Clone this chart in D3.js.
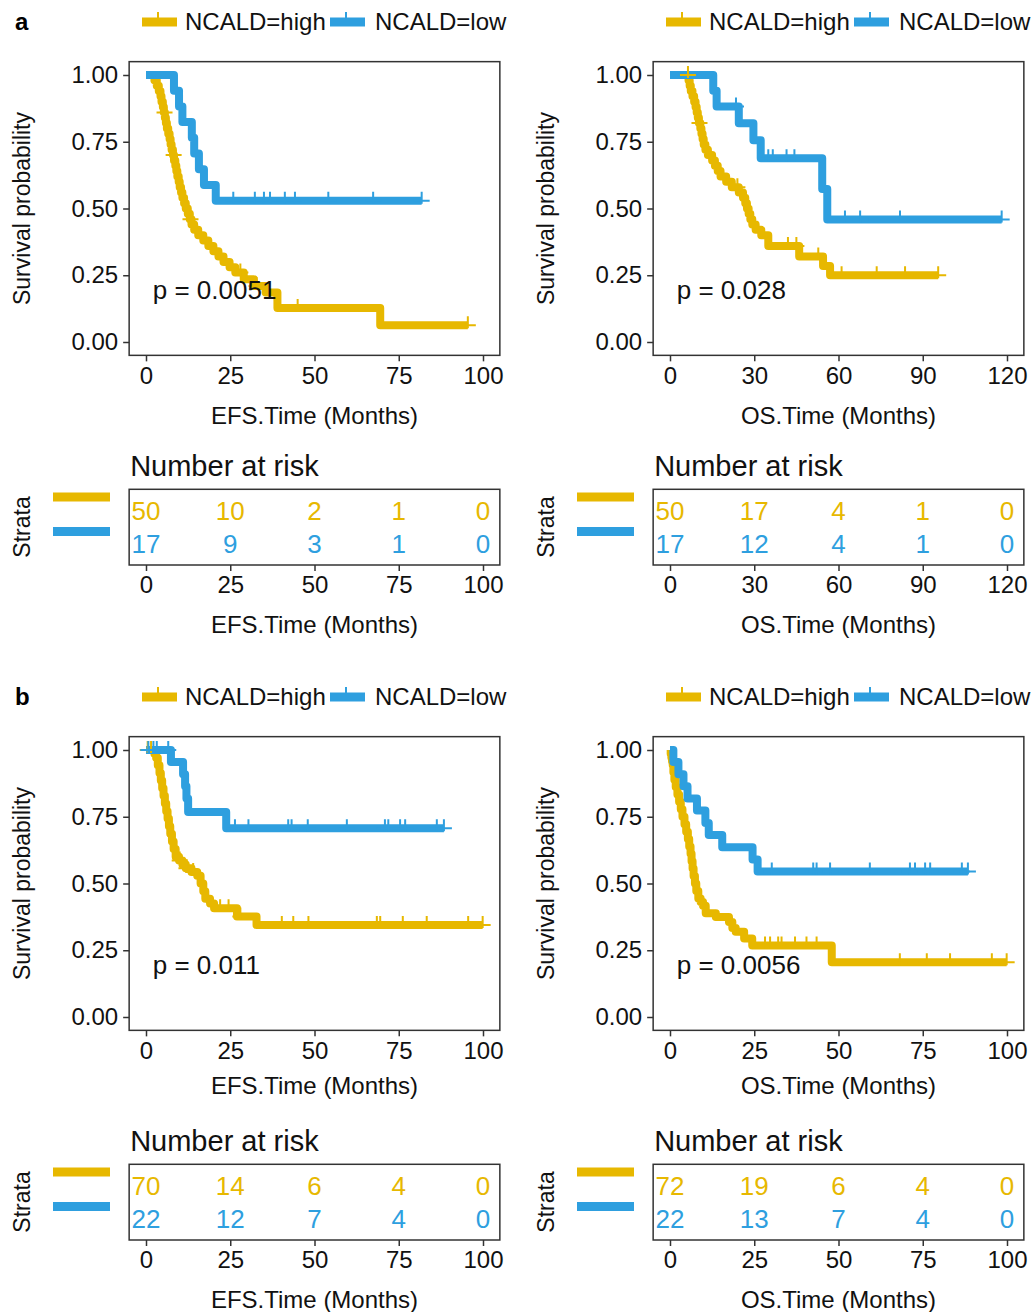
<!DOCTYPE html>
<html>
<head>
<meta charset="utf-8">
<script src="https://cdn.jsdelivr.net/npm/d3@7"></script>
<style>
  body { margin: 0; background: #fff; }
  svg { font-family: "Liberation Sans", Arial, sans-serif; }
</style>
</head>
<body>
<div id="chart"></div>
<script>
(function () {

    // ---- data ----
    const groups = ['NCALD=high', 'NCALD=low'];
    const efsTicks = [0, 25, 50, 75, 100];
    const osTicksA = [0, 30, 60, 90, 120];
    const osTicksB = [0, 25, 50, 75, 100];
    const survTicks = [0, 0.25, 0.5, 0.75, 1];
    const pValues = ['p = 0.0051', 'p = 0.028', 'p = 0.011', 'p = 0.0056'];

    // a, EFS
    const efsAHigh = [[0,1],[2.5,0.98],[3.2,0.96],[3.8,0.94],[4.3,0.92],[4.6,0.90],[5.0,0.88],[5.3,0.86],[5.6,0.84],
        [5.9,0.82],[6.2,0.80],[6.6,0.78],[7.0,0.76],[7.3,0.74],[7.6,0.72],[8.0,0.70],[8.3,0.68],[8.7,0.66],[9.0,0.64],
        [9.3,0.62],[9.7,0.60],[10.0,0.58],[10.4,0.56],[10.8,0.54],[11.3,0.52],[11.8,0.50],[12.4,0.48],[13.0,0.46],
        [13.5,0.44],[14.3,0.42],[15.5,0.40],[17.0,0.38],[18.5,0.36],[20.0,0.34],[21.5,0.32],[23.0,0.30],[24.8,0.28],
        [26.5,0.26],[29.0,0.235],[32.0,0.21],[35.5,0.185],[39.0,0.127],[69.5,0.063]];
    const efsAHighCens = [5.5, 8.2, 13.2, 28, 32.8, 45, 95.5];
    const efsALow = [[0,1],[8.3,0.941],[9.8,0.882],[10.8,0.824],[13.6,0.765],[14.3,0.706],[15.7,0.647],[17.2,0.588],[20.7,0.529]];
    const efsALowCens = [25.9, 32.3, 35, 36.8, 41.2, 44.2, 54.1, 67.4, 81.8];
    const riskEfsA = [[50, 10, 2, 1, 0], [17, 9, 3, 1, 0]];

    // a, OS
    const osAHigh = [[0,1],[6.6,0.98],[7.0,0.96],[7.4,0.94],[8.0,0.92],[8.6,0.90],[9.1,0.88],[9.5,0.86],[9.9,0.84],
        [10.3,0.82],[10.8,0.80],[11.2,0.78],[11.6,0.76],[12.0,0.74],[12.6,0.72],[13.5,0.70],[15.0,0.68],[16.0,0.66],
        [17.0,0.64],[18.0,0.62],[20.0,0.60],[22.0,0.58],[24.5,0.56],[26.0,0.54],[26.8,0.52],[27.4,0.50],[28.0,0.48],
        [28.6,0.46],[29.3,0.44],[30.5,0.42],[32.5,0.40],[35.0,0.36],[46.0,0.32],[54.5,0.285],[57.0,0.25]];
    const osAHighCens = [6.4, 10.5, 24, 42, 45, 52.8, 61.1, 73.6, 83.7, 95.5];
    const osALow = [[0,1],[15.4,0.941],[16.6,0.882],[24.5,0.819],[29.7,0.756],[32.3,0.688],[54.2,0.573],[56.0,0.459]];
    const osALowCens = [23.5, 35, 36.6, 41.5, 44.3, 62.3, 67.7, 81.9, 118.1];
    const riskOsA = [[50, 17, 4, 1, 0], [17, 12, 4, 1, 0]];

    // b, EFS
    const efsBHigh = [[0,1],[2.5,0.986],[3.0,0.971],[3.5,0.943],[4.0,0.914],[4.4,0.886],[4.8,0.857],[5.2,0.829],
        [5.6,0.80],[6.0,0.771],[6.4,0.743],[6.8,0.714],[7.2,0.686],[7.7,0.657],[8.2,0.629],[8.8,0.60],[9.8,0.586],
        [10.8,0.571],[11.8,0.557],[13.5,0.543],[15.2,0.529],[16.2,0.50],[17.0,0.471],[17.6,0.443],[19.0,0.425],
        [20.2,0.407],[27.0,0.376],[32.8,0.345]];
    const efsBHighCens = [0.5, 1.5, 10, 12, 14, 22, 24.5, 28, 40.3, 43.7, 48.2, 68.5, 69.5, 76.2, 83.3, 95.6, 99.9];
    const efsBLow = [[0,1],[7.4,0.955],[11.0,0.909],[11.6,0.864],[12.0,0.818],[12.5,0.768],[23.8,0.707]];
    const efsBLowCens = [0.7, 2.2, 3.2, 6.6, 26.4, 30.4, 42.2, 43.2, 48, 59.6, 70.9, 71.9, 75.4, 76.9, 86.3, 88.4];
    const riskEfsB = [[70, 14, 6, 4, 0], [22, 12, 7, 4, 0]];

    // b, OS
    const osBHigh = [[0,1],[0.2,0.986],[0.4,0.972],[0.6,0.958],[0.8,0.944],[1.0,0.917],[1.3,0.889],[1.7,0.861],
        [2.2,0.833],[2.7,0.806],[3.2,0.778],[3.7,0.75],[4.3,0.722],[4.8,0.694],[5.3,0.667],[5.7,0.639],[6.1,0.611],
        [6.4,0.583],[6.7,0.556],[7.0,0.528],[7.4,0.50],[7.8,0.472],[8.4,0.444],[9.1,0.431],[9.8,0.417],[10.6,0.389],
        [13.6,0.375],[17.5,0.356],[18.5,0.333],[19.5,0.319],[22.0,0.294],[24.4,0.268],[48.0,0.205]];
    const osBHighCens = [28.2, 29.7, 32.1, 33.1, 37.1, 40.5, 43.5, 68.2, 76.2, 83.1, 95.5, 99.9];
    const osBLow = [[0,1],[1.0,0.955],[2.5,0.909],[4.0,0.864],[5.2,0.818],[8.0,0.773],[10.5,0.727],[11.5,0.682],
        [15.5,0.636],[24.5,0.59],[26.0,0.545]];
    const osBLowCens = [30.2, 42.5, 43.5, 47.5, 59.3, 71.2, 72.7, 75.7, 77.2, 86.6, 88.4];
    const riskOsB = [[72, 19, 6, 4, 0], [22, 13, 7, 4, 0]];

    // ---- layout ----
    const colors = ['#E7B800', '#2E9FDF'];
    const cols = [{x0: 146, x1: 483, off: 0}, {x0: 670, x1: 1007, off: 524}];
    const rows = [{dy: 0, titleY: 416, label: 'a'}, {dy: 675, titleY: 1086, label: 'b'}];

    const panels = [
        {row: 0, col: 0, ticks: efsTicks, title: 'EFS.Time (Months)', p: pValues[0],
            curves: [[efsAHigh, efsAHighCens], [efsALow, efsALowCens]], risk: riskEfsA},
        {row: 0, col: 1, ticks: osTicksA, title: 'OS.Time (Months)', p: pValues[1],
            curves: [[osAHigh, osAHighCens], [osALow, osALowCens]], risk: riskOsA},
        {row: 1, col: 0, ticks: efsTicks, title: 'EFS.Time (Months)', p: pValues[2],
            curves: [[efsBHigh, efsBHighCens], [efsBLow, efsBLowCens]], risk: riskEfsB},
        {row: 1, col: 1, ticks: osTicksB, title: 'OS.Time (Months)', p: pValues[3],
            curves: [[osBHigh, osBHighCens], [osBLow, osBLowCens]], risk: riskOsB}
    ];

    const svg = d3.select('#chart')
        .append('svg')
        .attr('width', 1033)
        .attr('height', 1312);

    const survAt = (steps, t) => {
        let s = 1;
        steps.forEach(d => { if (d[0] <= t) s = d[1]; });
        return s;
    };
    // censor mark: the lower half sits inside the thick step line
    const plus = (cx, cy, a) => `M${cx - a},${cy}H${cx + a}M${cx},${cy - a - 1}V${cy + 3}`;

    function styleAxis(g) {
        g.select('.domain').remove();
        g.selectAll('.tick line').attr('stroke', '#333').attr('stroke-width', 1.5);
        g.selectAll('.tick text').attr('fill', '#111').style('font-size', '24px')
            .style('font-family', '"Liberation Sans", Arial, sans-serif');
    }

    rows.forEach(r => {
        svg.append('text')
            .attr('x', 15).attr('y', 30 + r.dy)
            .style('font-size', '24px').style('font-weight', 'bold')
            .text(r.label);
    });

    panels.forEach(pn => {
        const r = rows[pn.row], c = cols[pn.col];
        const xMax = d3.max(pn.ticks);
        const x = d3.scaleLinear().domain([0, xMax]).range([c.x0, c.x1]);
        const y = d3.scaleLinear().domain([0, 1]).range([342 + r.dy, 75 + r.dy]);
        const left = x(-0.05 * xMax), right = x(1.05 * xMax);
        const top = y(1.05), bottom = y(-0.05);
        const g = svg.append('g');

        // legend
        const lg = g.append('g');
        [142, 330].forEach((kx, i) => {
            const k = kx + c.off, ky = 22 + r.dy;
            lg.append('line').attr('x1', k).attr('x2', k + 35).attr('y1', ky).attr('y2', ky)
                .attr('stroke', colors[i]).attr('stroke-width', 9);
            lg.append('path').attr('d', plus(k + 16, ky, 9))
                .attr('stroke', colors[i]).attr('stroke-width', 2).attr('fill', 'none');
            lg.append('text').attr('x', k + (i ? 45 : 43)).attr('y', ky).attr('dy', '0.35em')
                .style('font-size', '24px').attr('fill', '#111').text(groups[i]);
        });

        // survival curves
        const line = d3.line()
            .x(d => x(d[0]))
            .y(d => y(d[1]))
            .curve(d3.curveStepAfter);

        pn.curves.forEach(([steps, cens], i) => {
            const pts = steps.concat([[d3.max(cens), steps[steps.length - 1][1]]]);
            g.append('path')
                .datum(pts)
                .attr('d', line)
                .attr('fill', 'none')
                .attr('stroke', colors[i])
                .attr('stroke-width', 8)
                .attr('stroke-linejoin', 'round');
        });
        pn.curves.forEach(([steps, cens], i) => {
            g.selectAll(null)
                .data(cens)
                .enter()
                .append('path')
                .attr('d', t => plus(x(t), y(survAt(steps, t)), 8))
                .attr('stroke', colors[i])
                .attr('stroke-width', 2)
                .attr('fill', 'none');
        });

        // frame
        g.append('rect')
            .attr('x', left).attr('y', top)
            .attr('width', right - left).attr('height', bottom - top)
            .attr('fill', 'none').attr('stroke', '#333').attr('stroke-width', 1.5);

        // axes
        g.append('g')
            .attr('transform', `translate(${left},0)`)
            .call(d3.axisLeft(y).tickValues(survTicks).tickFormat(d3.format('.2f')).tickSize(6).tickPadding(5))
            .call(styleAxis);
        g.append('g')
            .attr('transform', `translate(0,${bottom})`)
            .call(d3.axisBottom(x).tickValues(pn.ticks).tickSize(6).tickPadding(6))
            .call(styleAxis);

        g.append('text')
            .attr('transform', `translate(${22 + c.off},${(top + bottom) / 2}) rotate(-90)`)
            .attr('text-anchor', 'middle').attr('dy', '0.35em')
            .style('font-size', '23px').attr('fill', '#111')
            .text('Survival probability');
        g.append('text')
            .attr('x', (left + right) / 2).attr('y', r.titleY).attr('dy', '0.35em')
            .attr('text-anchor', 'middle')
            .style('font-size', '24px').attr('fill', '#111')
            .text(pn.title);

        g.append('text')
            .attr('x', x(xMax * 0.02)).attr('y', y(0.195)).attr('dy', '0.35em')
            .style('font-size', '26px').attr('fill', '#111')
            .text(pn.p);

        // number at risk table
        const tTop = 489.3 + r.dy, tBot = 565 + r.dy;
        g.append('text')
            .attr('x', left + 1).attr('y', 466 + r.dy).attr('dy', '0.35em')
            .style('font-size', '29px').attr('fill', '#111')
            .text('Number at risk');
        g.append('rect')
            .attr('x', left).attr('y', tTop)
            .attr('width', right - left).attr('height', tBot - tTop)
            .attr('fill', 'none').attr('stroke', '#333').attr('stroke-width', 1.5);
        pn.risk.forEach((row, i) => {
            g.selectAll(null)
                .data(row)
                .enter()
                .append('text')
                .attr('x', (d, j) => x(pn.ticks[j]))
                .attr('y', [511, 544][i] + r.dy)
                .attr('dy', '0.35em')
                .attr('text-anchor', 'middle')
                .style('font-size', '26px')
                .attr('fill', colors[i])
                .text(d => d);
            g.append('rect')
                .attr('x', 53 + c.off).attr('y', [492.5, 527][i] + r.dy)
                .attr('width', 57).attr('height', 9)
                .attr('fill', colors[i]);
        });
        g.append('text')
            .attr('transform', `translate(${22 + c.off},${527 + r.dy}) rotate(-90)`)
            .attr('text-anchor', 'middle').attr('dy', '0.35em')
            .style('font-size', '23px').attr('fill', '#111')
            .text('Strata');
        g.append('g')
            .attr('transform', `translate(0,${tBot})`)
            .call(d3.axisBottom(x).tickValues(pn.ticks).tickSize(6).tickPadding(5))
            .call(styleAxis);
        g.append('text')
            .attr('x', (left + right) / 2).attr('y', 625 + r.dy).attr('dy', '0.35em')
            .attr('text-anchor', 'middle')
            .style('font-size', '24px').attr('fill', '#111')
            .text(pn.title);
    });

})();
</script>
</body>
</html>
